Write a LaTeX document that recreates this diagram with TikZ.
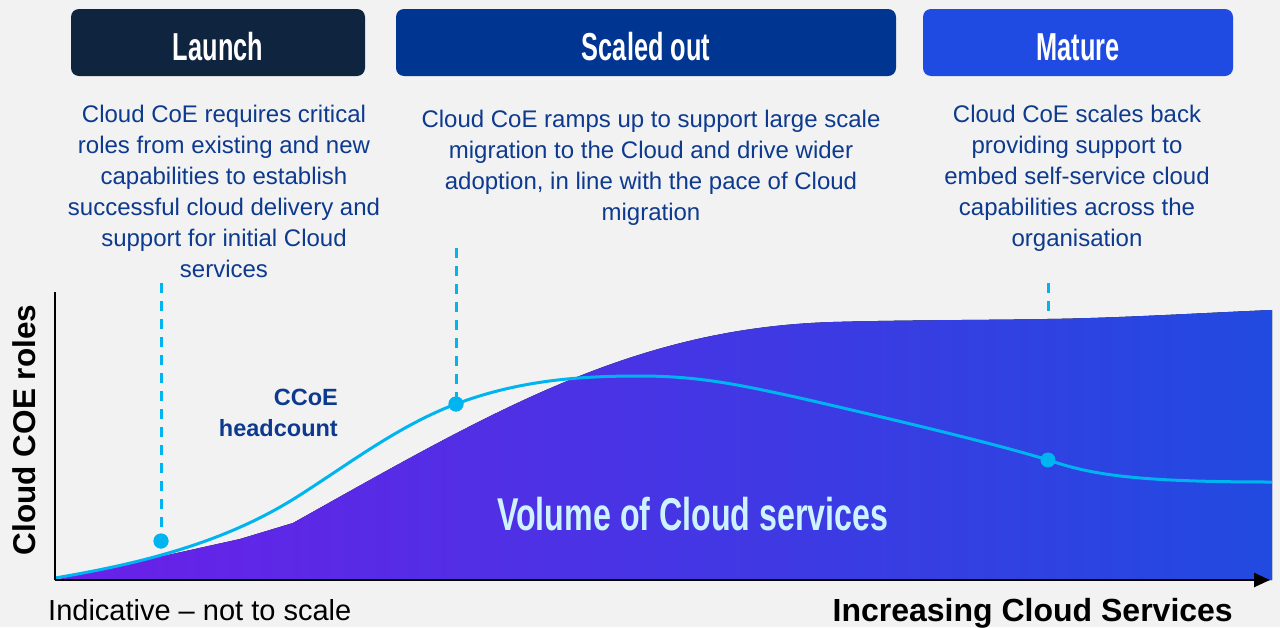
\documentclass[tikz,border=0pt]{standalone}
\usepackage{fontspec}
\usepackage{graphicx}
\setmainfont{Liberation Sans}
\usetikzlibrary{arrows.meta}
\definecolor{bg}{HTML}{F2F2F2}
\definecolor{launchc}{HTML}{0F243E}
\definecolor{scaledc}{HTML}{003591}
\definecolor{maturec}{HTML}{1F4BE2}
\definecolor{bodyc}{HTML}{0D3A8E}
\definecolor{cyanc}{HTML}{00B4F0}
\definecolor{purpc}{HTML}{6B20E8}
\definecolor{bluec}{HTML}{214AE0}
\definecolor{volc}{HTML}{CCF3FF}
\tikzset{
  hdrbox/.style={rectangle, rounded corners=8pt, inner sep=0pt, minimum height=67pt},
  hdrtext/.style={text=white, inner sep=0pt, anchor=base, font=\fontsize{39}{39}\selectfont\bfseries},
  body/.style={text=bodyc, align=center, inner sep=0pt, anchor=north, font=\fontsize{24}{31}\selectfont},
  dashline/.style={cyanc, line width=3pt, dash pattern=on 10pt off 8pt},
  headline/.style={cyanc, line width=3pt},
  dot/.style={circle, fill=cyanc, inner sep=0pt, minimum size=15pt},
  axis/.style={black, line width=2.5pt}
}
\begin{document}
\begin{tikzpicture}[x=1pt,y=-1pt]
\useasboundingbox[fill=bg] (0,0) rectangle (1280,627);

% header boxes
\node[hdrbox, fill=launchc, minimum width=294pt] (h1) at (218,42.5) {};
\node[hdrbox, fill=scaledc, minimum width=500pt] (h2) at (646,42.5) {};
\node[hdrbox, fill=maturec, minimum width=310pt] (h3) at (1078,42.5) {};
\node[hdrtext] (h1t) at (218,60) {\scalebox{0.65}[1]{Launch}};
\node[hdrtext] (h2t) at (646,60) {\scalebox{0.65}[1]{Scaled out}};
\node[hdrtext] (h3t) at (1078,60) {\scalebox{0.65}[1]{Mature}};

% body texts
\node[body] (t1) at (224,105) {Cloud CoE requires critical\\roles from existing and new\\capabilities to establish\\successful cloud delivery and\\support for initial Cloud\\services};
\node[body] (t2) at (651,110) {Cloud CoE ramps up to support large scale\\migration to the Cloud and drive wider\\adoption, in line with the pace of Cloud\\migration};
\node[body] (t3) at (1077,105) {Cloud CoE scales back\\providing support to\\embed self-service cloud\\capabilities across the\\organisation};

% dots and dashed lines
\coordinate (d1top) at (161,283);
\coordinate (d2top) at (456,248);
\coordinate (d3top) at (1048,283);
\node[dot] (d1) at (161,541) {};
\node[dot] (d2) at (456,404) {};
\node[dot] (d3) at (1048,460) {};
\draw[dashline] (d3top) -- (d3.center);

% volume area
\fill[left color=purpc, right color=bluec]
  (55,580) -- (240,539) -- (293,523)
  .. controls (493,411) and (633,328) .. (833,322)
  .. controls (900,320) and (1000,320) .. (1047,319)
  .. controls (1120,318) and (1200,313) .. (1272,310)
  -- (1272,580) -- cycle;

\node[text=volc, inner sep=0pt, anchor=base west, font=\fontsize{46}{46}\selectfont\bfseries] (vol) at (497,530) {\scalebox{0.70}[1]{Volume of Cloud services}};

\draw[dashline] (d1top) -- (d1.center);
\draw[dashline] (d2top) -- (d2.center);

% headcount curve
\draw[headline] (55,578) .. controls (150,562) and (230,540) .. (300,495)
  .. controls (350,463) and (400,425) .. (456,404)
  .. controls (520,380) and (580,376) .. (640,376)
  .. controls (700,376) and (740,385) .. (800,398)
  .. controls (900,421) and (1000,445) .. (1048,460)
  .. controls (1090,474) and (1130,482) .. (1272,482);
\node[dot] at (d1) {};
\node[dot] at (d2) {};
\node[dot] at (d3) {};

\node[text=bodyc, align=right, inner sep=0pt, anchor=north east, font=\fontsize{23.5}{31}\selectfont\bfseries] (hc) at (338,389) {CCoE\\headcount};

% axes
\coordinate (origin) at (55,580);
\coordinate (ytop) at (55,292);
\coordinate (xend) at (1270,580);
\draw[axis] (ytop) -- (origin);
\draw[axis, -{Triangle[length=16pt,width=14pt]}] (origin) -- (xend);

\node[rotate=90, inner sep=0pt, anchor=base, font=\fontsize{31.5}{31.5}\selectfont\bfseries] (ylab) at (35,430) {Cloud COE roles};
\node[inner sep=0pt, anchor=base west, font=\fontsize{29}{29}\selectfont] (ind) at (48,620) {Indicative -- not to scale};
\node[inner sep=0pt, anchor=base east, font=\fontsize{32}{32}\selectfont\bfseries] (xlab) at (1233,621) {Increasing Cloud Services};
\end{tikzpicture}
\end{document}
